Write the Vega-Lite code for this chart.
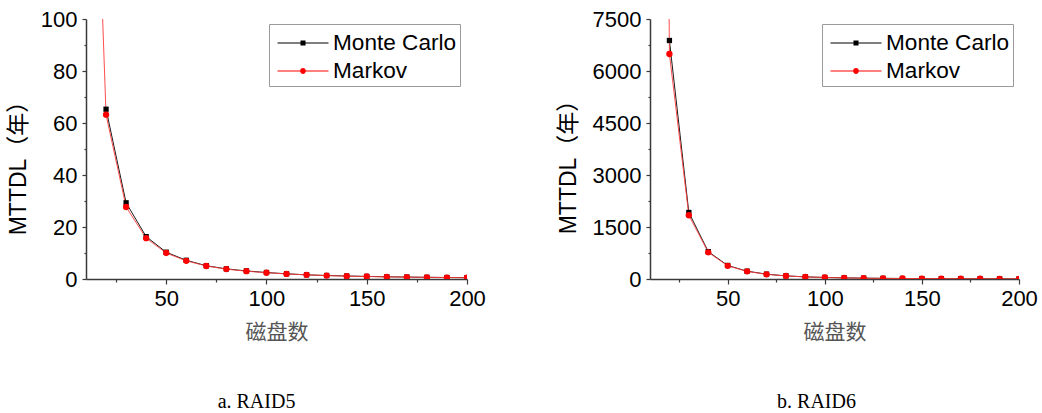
{
  "$schema": "https://vega.github.io/schema/vega-lite/v6.json",
  "autosize": {"type": "pad"},
  "padding": {"left": 7, "top": 8, "right": 4, "bottom": 0},
  "datasets": {
    "raid5": [
      {"disks": 20, "mttdl": 65.3, "series": "Monte Carlo"},
      {"disks": 30, "mttdl": 29.3, "series": "Monte Carlo"},
      {"disks": 40, "mttdl": 16.3, "series": "Monte Carlo"},
      {"disks": 50, "mttdl": 10.3, "series": "Monte Carlo"},
      {"disks": 60, "mttdl": 7.2, "series": "Monte Carlo"},
      {"disks": 70, "mttdl": 5.1, "series": "Monte Carlo"},
      {"disks": 80, "mttdl": 3.9, "series": "Monte Carlo"},
      {"disks": 90, "mttdl": 3.1, "series": "Monte Carlo"},
      {"disks": 100, "mttdl": 2.5, "series": "Monte Carlo"},
      {"disks": 110, "mttdl": 2.0, "series": "Monte Carlo"},
      {"disks": 120, "mttdl": 1.6, "series": "Monte Carlo"},
      {"disks": 130, "mttdl": 1.35, "series": "Monte Carlo"},
      {"disks": 140, "mttdl": 1.15, "series": "Monte Carlo"},
      {"disks": 150, "mttdl": 1.0, "series": "Monte Carlo"},
      {"disks": 160, "mttdl": 0.85, "series": "Monte Carlo"},
      {"disks": 170, "mttdl": 0.75, "series": "Monte Carlo"},
      {"disks": 180, "mttdl": 0.65, "series": "Monte Carlo"},
      {"disks": 190, "mttdl": 0.58, "series": "Monte Carlo"},
      {"disks": 200, "mttdl": 0.52, "series": "Monte Carlo"},
      {"disks": 10, "mttdl": 280, "series": "Markov"},
      {"disks": 20, "mttdl": 63.2, "series": "Markov"},
      {"disks": 30, "mttdl": 27.7, "series": "Markov"},
      {"disks": 40, "mttdl": 15.7, "series": "Markov"},
      {"disks": 50, "mttdl": 10.0, "series": "Markov"},
      {"disks": 60, "mttdl": 7.0, "series": "Markov"},
      {"disks": 70, "mttdl": 5.0, "series": "Markov"},
      {"disks": 80, "mttdl": 3.8, "series": "Markov"},
      {"disks": 90, "mttdl": 3.0, "series": "Markov"},
      {"disks": 100, "mttdl": 2.4, "series": "Markov"},
      {"disks": 110, "mttdl": 1.95, "series": "Markov"},
      {"disks": 120, "mttdl": 1.6, "series": "Markov"},
      {"disks": 130, "mttdl": 1.3, "series": "Markov"},
      {"disks": 140, "mttdl": 1.1, "series": "Markov"},
      {"disks": 150, "mttdl": 0.95, "series": "Markov"},
      {"disks": 160, "mttdl": 0.82, "series": "Markov"},
      {"disks": 170, "mttdl": 0.72, "series": "Markov"},
      {"disks": 180, "mttdl": 0.63, "series": "Markov"},
      {"disks": 190, "mttdl": 0.56, "series": "Markov"},
      {"disks": 200, "mttdl": 0.5, "series": "Markov"}
    ],
    "raid6": [
      {"disks": 20, "mttdl": 6880, "series": "Monte Carlo"},
      {"disks": 30, "mttdl": 1920, "series": "Monte Carlo"},
      {"disks": 40, "mttdl": 790, "series": "Monte Carlo"},
      {"disks": 50, "mttdl": 390, "series": "Monte Carlo"},
      {"disks": 60, "mttdl": 225, "series": "Monte Carlo"},
      {"disks": 70, "mttdl": 140, "series": "Monte Carlo"},
      {"disks": 80, "mttdl": 90, "series": "Monte Carlo"},
      {"disks": 90, "mttdl": 62, "series": "Monte Carlo"},
      {"disks": 100, "mttdl": 45, "series": "Monte Carlo"},
      {"disks": 110, "mttdl": 33, "series": "Monte Carlo"},
      {"disks": 120, "mttdl": 25, "series": "Monte Carlo"},
      {"disks": 130, "mttdl": 19, "series": "Monte Carlo"},
      {"disks": 140, "mttdl": 15, "series": "Monte Carlo"},
      {"disks": 150, "mttdl": 12, "series": "Monte Carlo"},
      {"disks": 160, "mttdl": 10, "series": "Monte Carlo"},
      {"disks": 170, "mttdl": 8, "series": "Monte Carlo"},
      {"disks": 180, "mttdl": 6.5, "series": "Monte Carlo"},
      {"disks": 190, "mttdl": 5.5, "series": "Monte Carlo"},
      {"disks": 200, "mttdl": 4.5, "series": "Monte Carlo"},
      {"disks": 10, "mttdl": 80000, "series": "Markov"},
      {"disks": 20, "mttdl": 6490, "series": "Markov"},
      {"disks": 30, "mttdl": 1840, "series": "Markov"},
      {"disks": 40, "mttdl": 770, "series": "Markov"},
      {"disks": 50, "mttdl": 380, "series": "Markov"},
      {"disks": 60, "mttdl": 220, "series": "Markov"},
      {"disks": 70, "mttdl": 135, "series": "Markov"},
      {"disks": 80, "mttdl": 88, "series": "Markov"},
      {"disks": 90, "mttdl": 60, "series": "Markov"},
      {"disks": 100, "mttdl": 43, "series": "Markov"},
      {"disks": 110, "mttdl": 32, "series": "Markov"},
      {"disks": 120, "mttdl": 24, "series": "Markov"},
      {"disks": 130, "mttdl": 18, "series": "Markov"},
      {"disks": 140, "mttdl": 14.5, "series": "Markov"},
      {"disks": 150, "mttdl": 11.5, "series": "Markov"},
      {"disks": 160, "mttdl": 9.5, "series": "Markov"},
      {"disks": 170, "mttdl": 7.5, "series": "Markov"},
      {"disks": 180, "mttdl": 6.2, "series": "Markov"},
      {"disks": 190, "mttdl": 5.2, "series": "Markov"},
      {"disks": 200, "mttdl": 4.3, "series": "Markov"}
    ]
  },
  "spacing": 71,
  "resolve": {
    "scale": {"color": "independent", "shape": "independent", "x": "independent", "y": "independent"},
    "legend": {"color": "independent", "shape": "independent"}
  },
  "hconcat": [
    {
      "width": 381,
      "height": 260,
      "title": {"text": "a. RAID5", "orient": "bottom", "anchor": "middle", "frame": "group", "dx": -20, "offset": 50, "font": "Liberation Serif", "fontSize": 20, "fontWeight": "normal", "color": "#000000"},
      "data": {"name": "raid5"},
      "encoding": {
        "x": {
          "field": "disks", "type": "quantitative",
          "scale": {"domain": [10, 200], "nice": false, "zero": false},
          "axis": {
            "values": [25, 50, 75, 100, 125, 150, 175, 200],
            "labelExpr": "datum.value % 50 === 0 ? datum.label : ''",
            "tickSize": {"condition": {"test": "datum.value % 50 === 0", "value": 5}, "value": 3},
            "labelPadding": 4,
            "title": "磁盘数", "titleY": 53, "titleBaseline": "middle",
            "titleFont": "Noto Sans CJK SC", "titleFontSize": 21, "titleFontWeight": "normal", "titleColor": "#555555"
          }
        },
        "y": {
          "field": "mttdl", "type": "quantitative",
          "scale": {"domain": [0, 100], "nice": false},
          "axis": {
            "values": [0, 10, 20, 30, 40, 50, 60, 70, 80, 90, 100],
            "labelExpr": "datum.value % 20 === 0 ? datum.label : ''",
            "tickSize": {"condition": {"test": "datum.value % 20 === 0", "value": 4}, "value": 2},
            "labelPadding": 5,
            "title": "MTTDL（年）", "titleX": -68, "titleY": 143, "titleAngle": 270, "titleBaseline": "middle", "titleAlign": "center",
            "titleFont": "Liberation Sans, Noto Sans CJK SC", "titleFontSize": 23, "titleFontWeight": "normal", "titleColor": "#000000"
          }
        }
      },
      "layer": [
        {"transform": [{"filter": "datum.series === 'Monte Carlo'"}], "mark": {"type": "line", "color": "#1a1a1a", "strokeWidth": 1, "clip": true}, "encoding": {}},
        {"transform": [{"filter": "datum.series === 'Markov'"}], "mark": {"type": "line", "color": "#ff3a3a", "strokeWidth": 0.9, "clip": true}, "encoding": {}},
        {"transform": [{"filter": "datum.series === 'Monte Carlo'"}], "mark": {"type": "point", "shape": "square", "filled": true, "color": "#000000", "size": 28, "opacity": 1, "clip": true}, "encoding": {}},
        {"transform": [{"filter": "datum.series === 'Markov'"}], "mark": {"type": "point", "shape": "circle", "filled": true, "color": "#ff0000", "size": 40, "opacity": 1, "clip": true}, "encoding": {}},
        {
          "transform": [{"filter": "false"}],
          "mark": {"type": "point", "filled": true, "opacity": 1, "size": 576},
          "encoding": {
            "color": {"field": "series", "type": "nominal", "scale": {"domain": ["Monte Carlo", "Markov"], "range": ["#000000", "#ff0000"]},
              "legend": {"title": " ", "titleFontSize": 4, "titlePadding": 0, "orient": "none", "legendX": 183, "legendY": 5, "padding": 3, "strokeColor": "#9a9a9a", "fillColor": "#ffffff", "symbolSize": 576, "symbolOffset": 19, "labelOffset": 18, "rowPadding": 4, "symbolStrokeWidth": 0, "labelFont": "Liberation Sans", "labelFontSize": 22.6, "labelColor": "#000000"}},
            "shape": {"field": "series", "type": "nominal", "scale": {"domain": ["Monte Carlo", "Markov"], "range": ["M-2.125,-0.045H2.125V0.045H-2.125ZM-0.21,-0.21H0.21V0.21H-0.21Z", "M-2.125,-0.045H2.125V0.045H-2.125ZM0.24,0A0.24,0.24 0 1,1 -0.24,0A0.24,0.24 0 1,1 0.24,0Z"]},
              "legend": {"title": " ", "titleFontSize": 4, "titlePadding": 0, "orient": "none", "legendX": 183, "legendY": 5, "padding": 3, "strokeColor": "#9a9a9a", "fillColor": "#ffffff", "symbolSize": 576, "symbolOffset": 19, "labelOffset": 18, "rowPadding": 4, "symbolStrokeWidth": 0, "labelFont": "Liberation Sans", "labelFontSize": 22.6, "labelColor": "#000000"}}
          }
        }
      ]
    },
    {
      "width": 369,
      "height": 260,
      "title": {"text": "b. RAID6", "orient": "bottom", "anchor": "middle", "frame": "group", "dx": -18, "offset": 50, "font": "Liberation Serif", "fontSize": 20, "fontWeight": "normal", "color": "#000000"},
      "data": {"name": "raid6"},
      "encoding": {
        "x": {
          "field": "disks", "type": "quantitative",
          "scale": {"domain": [10, 200], "nice": false, "zero": false},
          "axis": {
            "values": [25, 50, 75, 100, 125, 150, 175, 200],
            "labelExpr": "datum.value % 50 === 0 ? datum.label : ''",
            "tickSize": {"condition": {"test": "datum.value % 50 === 0", "value": 5}, "value": 3},
            "labelPadding": 4,
            "title": "磁盘数", "titleY": 53, "titleBaseline": "middle",
            "titleFont": "Noto Sans CJK SC", "titleFontSize": 21, "titleFontWeight": "normal", "titleColor": "#555555"
          }
        },
        "y": {
          "field": "mttdl", "type": "quantitative",
          "scale": {"domain": [0, 7500], "nice": false},
          "axis": {
            "values": [0, 750, 1500, 2250, 3000, 3750, 4500, 5250, 6000, 6750, 7500],
            "format": "d",
            "labelExpr": "datum.value % 1500 === 0 ? datum.label : ''",
            "tickSize": {"condition": {"test": "datum.value % 1500 === 0", "value": 4}, "value": 2},
            "labelPadding": 5,
            "title": "MTTDL（年）", "titleX": -82, "titleY": 142, "titleAngle": 270, "titleBaseline": "middle", "titleAlign": "center",
            "titleFont": "Liberation Sans, Noto Sans CJK SC", "titleFontSize": 23, "titleFontWeight": "normal", "titleColor": "#000000"
          }
        }
      },
      "layer": [
        {"transform": [{"filter": "datum.series === 'Monte Carlo'"}], "mark": {"type": "line", "color": "#1a1a1a", "strokeWidth": 1, "clip": true}, "encoding": {}},
        {"transform": [{"filter": "datum.series === 'Markov'"}], "mark": {"type": "line", "color": "#ff3a3a", "strokeWidth": 0.9, "clip": true}, "encoding": {}},
        {"transform": [{"filter": "datum.series === 'Monte Carlo'"}], "mark": {"type": "point", "shape": "square", "filled": true, "color": "#000000", "size": 28, "opacity": 1, "clip": true}, "encoding": {}},
        {"transform": [{"filter": "datum.series === 'Markov'"}], "mark": {"type": "point", "shape": "circle", "filled": true, "color": "#ff0000", "size": 40, "opacity": 1, "clip": true}, "encoding": {}},
        {
          "transform": [{"filter": "false"}],
          "mark": {"type": "point", "filled": true, "opacity": 1, "size": 576},
          "encoding": {
            "color": {"field": "series", "type": "nominal", "scale": {"domain": ["Monte Carlo", "Markov"], "range": ["#000000", "#ff0000"]},
              "legend": {"title": " ", "titleFontSize": 4, "titlePadding": 0, "orient": "none", "legendX": 172, "legendY": 5, "padding": 3, "strokeColor": "#9a9a9a", "fillColor": "#ffffff", "symbolSize": 576, "symbolOffset": 19, "labelOffset": 18, "rowPadding": 4, "symbolStrokeWidth": 0, "labelFont": "Liberation Sans", "labelFontSize": 22.6, "labelColor": "#000000"}},
            "shape": {"field": "series", "type": "nominal", "scale": {"domain": ["Monte Carlo", "Markov"], "range": ["M-2.125,-0.045H2.125V0.045H-2.125ZM-0.21,-0.21H0.21V0.21H-0.21Z", "M-2.125,-0.045H2.125V0.045H-2.125ZM0.24,0A0.24,0.24 0 1,1 -0.24,0A0.24,0.24 0 1,1 0.24,0Z"]},
              "legend": {"title": " ", "titleFontSize": 4, "titlePadding": 0, "orient": "none", "legendX": 172, "legendY": 5, "padding": 3, "strokeColor": "#9a9a9a", "fillColor": "#ffffff", "symbolSize": 576, "symbolOffset": 19, "labelOffset": 18, "rowPadding": 4, "symbolStrokeWidth": 0, "labelFont": "Liberation Sans", "labelFontSize": 22.6, "labelColor": "#000000"}}
          }
        }
      ]
    }
  ],
  "config": {
    "view": {"stroke": null},
    "axis": {
      "grid": false,
      "domainColor": "#3a3a3a",
      "domainWidth": 1.5,
      "tickColor": "#3a3a3a",
      "tickWidth": 1.2,
      "labelFont": "Liberation Sans",
      "labelFontSize": 22,
      "labelColor": "#000000",
      "labelOverlap": false,
      "labelFlush": false,
      "labelBound": false
    }
  }
}
